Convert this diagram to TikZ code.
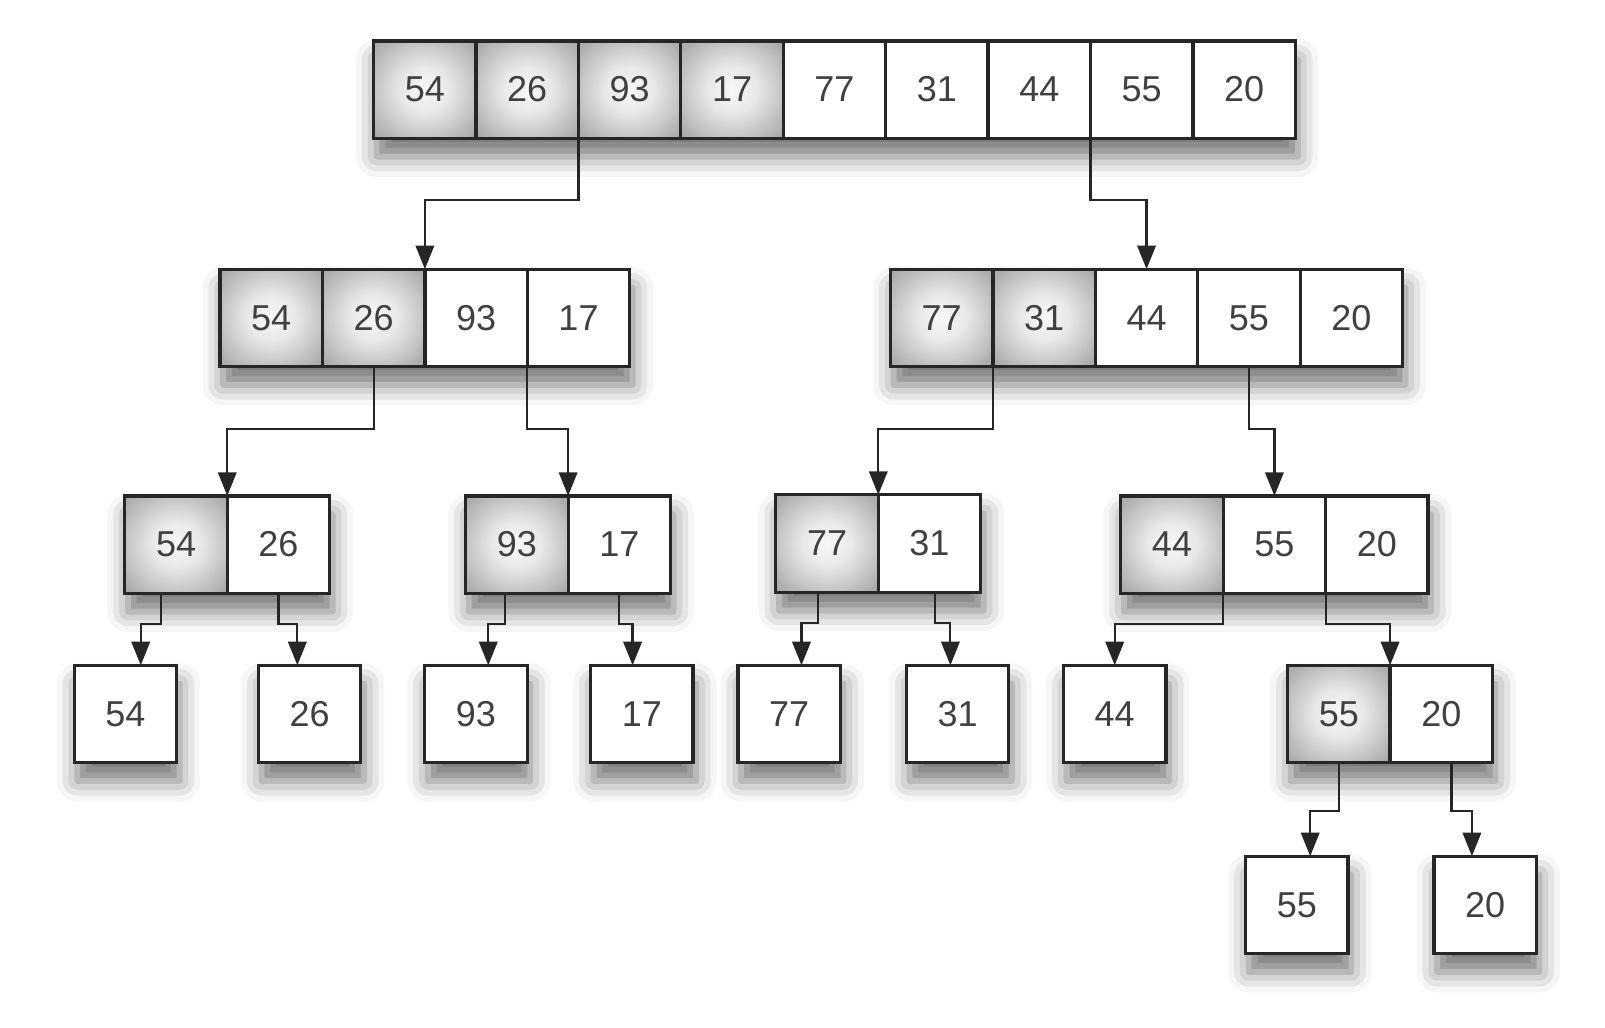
\documentclass[tikz,border=0pt]{standalone}
\usepackage{fontspec}
\setmainfont{Liberation Sans}
\usetikzlibrary{positioning,arrows.meta,shadows.blur}
\pgfdeclareradialshading{cellglow}{\pgfpoint{0bp}{0bp}}{%
  color(0bp)=(black!3); color(12bp)=(black!9); color(32bp)=(black!32); color(48bp)=(black!45)}
\tikzset{
  cell/.style={draw=black!85,line width=0.9pt,fill=white,minimum width=1cm,minimum height=0.95cm,
    inner sep=0pt,outer sep=0pt,text=black!75,font=\fontsize{10}{12}\selectfont},
  hot cell/.style={cell,shading=cellglow},
  list shadow/.style={blur shadow={shadow xshift=0.3mm,shadow yshift=-1.8mm,shadow blur radius=2mm,shadow opacity=55}},
  split/.style={draw=black!85,line width=0.6pt,-{Triangle[length=2.3mm,width=1.8mm]}},
}
% one list of cells: name, centre of first cell, number of shaded cells, values
\newcommand{\cellrow}[4]{%
  \foreach \v [count=\n] in {#4} {\xdef\ncells{\n}}
  \path[list shadow,fill=white] (#2) ++(-50,-47.5) rectangle ++(\ncells*100,95);
  \foreach \v [count=\i] in {#4} {
    \ifnum\i>#3 \tikzset{this cell/.style={cell}}\else\tikzset{this cell/.style={hot cell}}\fi
    \ifnum\i=1
      \node[this cell] (#1\i) at (#2) {\v};
    \else
      \pgfmathtruncatemacro{\j}{\i-1}
      \node[this cell,right=0pt of #1\j] (#1\i) {\v};
    \fi
  }
}

\begin{document}
\begin{tikzpicture}[x=0.01cm,y=-0.01cm]
  \useasboundingbox (0,0) rectangle (1568,1004);

  \cellrow{a}{415,87.5}{4}{54,26,93,17,77,31,44,55,20}
  \cellrow{b}{265,310.5}{2}{54,26,93,17}
  \cellrow{c}{920,310.5}{2}{77,31,44,55,20}
  \cellrow{d}{172,532}{1}{54,26}
  \cellrow{e}{505,532}{1}{93,17}
  \cellrow{f}{808,531}{1}{77,31}
  \cellrow{g}{1145,532}{1}{44,55,20}
  \cellrow{h}{1308,697.5}{1}{55,20}

  \node[cell,list shadow] (p1) at (122.5,697.5) {54};
  \node[cell,list shadow] (p2) at (302.5,697.5) {26};
  \node[cell,list shadow] (p3) at (465,697.5) {93};
  \node[cell,list shadow] (p4) at (627,697.5) {17};
  \node[cell,list shadow] (p5) at (771,697.5) {77};
  \node[cell,list shadow] (p6) at (935.5,697.5) {31};
  \node[cell,list shadow] (p7) at (1089,697.5) {44};
  \node[cell,list shadow] (q1) at (1267,884) {55};
  \node[cell,list shadow] (q2) at (1451,884) {20};

  % first split
  \draw[split] (a2.south east) -- ++(0,60) -| (b3.north west);
  \draw[split] (a8.south west) -- ++(0,60) -| (c3.north);
  % second split
  \draw[split] (b2.south) -- ++(0,61) -| (d2.north west);
  \draw[split] (b4.south west) -- ++(0,61) -| (e2.north west);
  \draw[split] (c2.south west) -- ++(0,61) -| (f2.north west);
  \draw[split] (c4.south) -- ++(0,61) -| (g2.north);
  % third split
  \draw[split] ([xshift=-1.5mm]d1.south) -- ++(0,30) -| ([xshift=1.5mm]p1.north);
  \draw[split] (d2.south) -- ++(0,30) -| ([xshift=-1.2mm]p2.north);
  \draw[split] ([xshift=-1.2mm]e1.south) -- ++(0,30) -| ([xshift=1.2mm]p3.north);
  \draw[split] (e2.south) -- ++(0,30) -| ([xshift=-0.9mm]p4.north);
  \draw[split] ([xshift=-0.9mm]f1.south) -- ++(0,30) -| ([xshift=1.2mm]p5.north);
  \draw[split] ([xshift=0.5mm]f2.south) -- ++(0,30) -| ([xshift=-0.7mm]p6.north);
  \draw[split] (g2.south west) -- ++(0,30) -| (p7.north);
  \draw[split] (g3.south west) -- ++(0,30) -| (h2.north west);
  % last split
  \draw[split] (h1.south) -- ++(0,47) -| ([xshift=1.3mm]q1.north);
  \draw[split] ([xshift=1mm]h2.south) -- ++(0,47) -| ([xshift=-1.3mm]q2.north);
\end{tikzpicture}
\end{document}
